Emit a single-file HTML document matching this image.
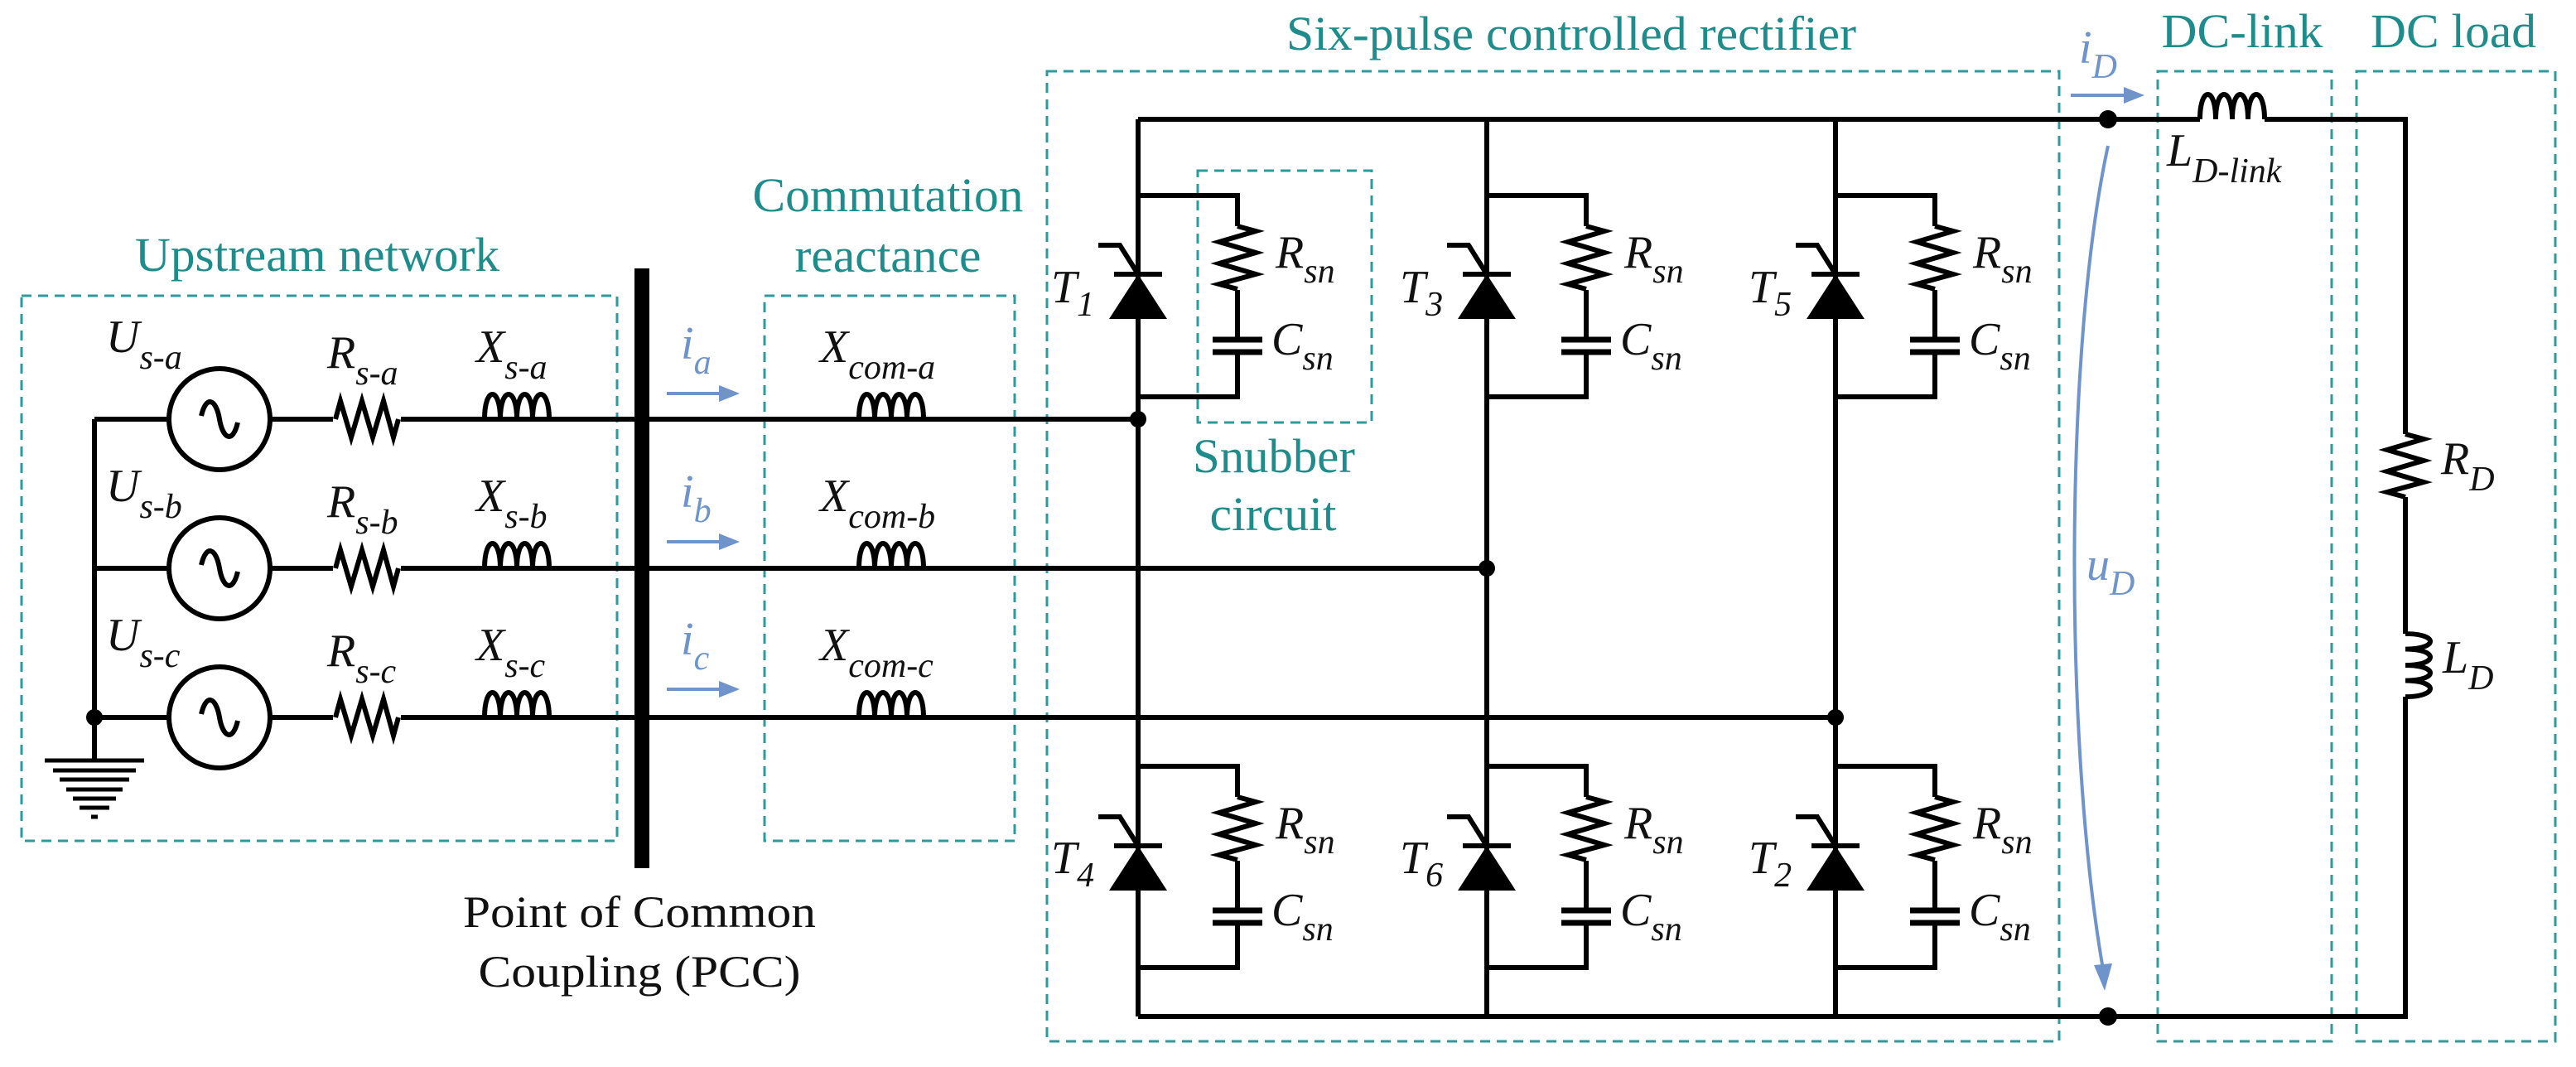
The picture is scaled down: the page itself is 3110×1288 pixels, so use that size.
<!DOCTYPE html>
<html><head><meta charset="utf-8"><style>
html,body{margin:0;padding:0;background:#fff;}
svg{display:block;}
.w{stroke:#000;stroke-width:6;fill:none;stroke-linejoin:miter;}
.box{stroke:#2f9a9c;stroke-width:3;fill:none;stroke-dasharray:12 8;}
.t{font-family:"Liberation Serif",serif;fill:#1f8c8c;font-size:58px;}
.v{font-family:"Liberation Serif",serif;font-style:italic;font-size:56px;fill:#111;}
.b{font-family:"Liberation Serif",serif;font-style:italic;font-size:56px;fill:#6f94cc;}
.p{font-family:"Liberation Serif",serif;font-size:54px;fill:#111;}
</style></head><body>
<svg width="3110" height="1288" viewBox="0 0 3110 1288" xmlns="http://www.w3.org/2000/svg">
<defs>
  <path id="res" class="w" d="M0,0 L6,-22 L19,22 L32,-22 L45,22 L58,-22 L70,22 L76,0"/>
  <path id="ind" class="w" d="M0,0 C0,-40 19,-40 19,0 C19,-40 39,-40 39,0 C39,-40 58,-40 58,0 C58,-40 78,-40 78,0"/>
  <g id="thy">
    <path d="M-35,54 L35,54 L0,0 Z" fill="#000"/>
    <path class="w" d="M-29,0 H29 M0,0 L-22,-35 H-48"/>
  </g>
  <g id="snub">
    <path class="w" d="M0,0 H120 V37 M120,114 V174 M120,189 V243 H0"/>
    <use href="#res" transform="translate(120,37) rotate(90)"/>
    <path d="M90,174 H150 M90,189 H150" stroke="#000" stroke-width="7"/>
  </g>
  <g id="src">
    <circle r="61" fill="#fff" stroke="#000" stroke-width="6"/>
    <path class="w" d="M-22,-4 C-16,-30 -4,-24 0,0 C4,24 16,30 22,4" stroke-width="5"/>
  </g>
</defs>

<!-- dashed boxes -->
<rect class="box" x="26" y="357" width="719" height="658"/>
<rect class="box" x="923" y="357" width="302" height="658"/>
<rect class="box" x="1264" y="86" width="1222" height="1171"/>
<rect class="box" x="1446" y="206" width="210" height="304"/>
<rect class="box" x="2605" y="86" width="210" height="1171"/>
<rect class="box" x="2845" y="86" width="240" height="1171"/>

<!-- titles -->
<text class="t" x="383" y="327" text-anchor="middle" textLength="440" lengthAdjust="spacingAndGlyphs">Upstream network</text>
<text class="t" x="1072" y="255" text-anchor="middle" textLength="327" lengthAdjust="spacingAndGlyphs">Commutation</text>
<text class="t" x="1072" y="328" text-anchor="middle" textLength="225" lengthAdjust="spacingAndGlyphs">reactance</text>
<text class="t" x="1897" y="60" text-anchor="middle" textLength="688" lengthAdjust="spacingAndGlyphs">Six-pulse controlled rectifier</text>
<text class="t" x="2707" y="57" text-anchor="middle" textLength="195" lengthAdjust="spacingAndGlyphs">DC-link</text>
<text class="t" x="2962" y="57" text-anchor="middle" textLength="200" lengthAdjust="spacingAndGlyphs">DC load</text>
<text class="t" x="1538" y="570" text-anchor="middle" textLength="196" lengthAdjust="spacingAndGlyphs">Snubber</text>
<text class="t" x="1537" y="640" text-anchor="middle" textLength="153" lengthAdjust="spacingAndGlyphs">circuit</text>
<text class="p" x="772" y="1119" text-anchor="middle" textLength="426" lengthAdjust="spacingAndGlyphs">Point of Common</text>
<text class="p" x="772" y="1191" text-anchor="middle" textLength="389" lengthAdjust="spacingAndGlyphs">Coupling (PCC)</text>

<!-- left bus & ground -->
<path class="w" d="M114,506 V918"/>
<circle cx="114" cy="866" r="10" fill="#000"/>
<g stroke="#000" stroke-width="5">
<path d="M54,918 H174 M64,930 H164 M72,941 H156 M80,953 H148 M88,964 H140 M96,975 H132 M110,986 H118"/>
</g>

<!-- phase wires -->
<path class="w" d="M114,506 H1374 M114,686 H1795 M114,866 H2216"/>
<g fill="#fff">
<rect x="402" y="470" width="82" height="40"/><rect x="402" y="650" width="82" height="40"/><rect x="402" y="830" width="82" height="40"/>
<rect x="585" y="470" width="78" height="33"/><rect x="585" y="650" width="78" height="33"/><rect x="585" y="830" width="78" height="33"/>
<rect x="1037" y="470" width="78" height="33"/><rect x="1037" y="650" width="78" height="33"/><rect x="1037" y="830" width="78" height="33"/>
</g>
<use href="#src" x="265" y="506"/><use href="#src" x="265" y="686"/><use href="#src" x="265" y="866"/>
<use href="#res" x="405" y="506"/><use href="#res" x="405" y="686"/><use href="#res" x="405" y="866"/>
<use href="#ind" x="585" y="506"/><use href="#ind" x="585" y="686"/><use href="#ind" x="585" y="866"/>
<use href="#ind" x="1037" y="506"/><use href="#ind" x="1037" y="686"/><use href="#ind" x="1037" y="866"/>

<!-- PCC bar -->
<rect x="766" y="324" width="18" height="724" fill="#000"/>

<!-- current arrows -->
<g stroke="#6f94cc" stroke-width="4" fill="#6f94cc">
<path d="M805,475 H880"/><path d="M893,475 L868,465 L868,485 Z" stroke="none"/>
<path d="M805,654 H880"/><path d="M893,654 L868,644 L868,664 Z" stroke="none"/>
<path d="M805,832 H880"/><path d="M893,832 L868,822 L868,842 Z" stroke="none"/>
<path d="M2500,115 H2576"/><path d="M2589,115 L2564,105 L2564,125 Z" stroke="none"/>
<path d="M2545,176 C2492,420 2492,900 2539,1170" fill="none"/>
<path d="M2541,1196 L2528,1165 L2550,1163 Z" stroke="none"/>
</g>

<!-- labels left -->
<text class="v" x="128" y="425">U<tspan font-size="42" dy="20">s-a</tspan></text>
<text class="v" x="128" y="605">U<tspan font-size="42" dy="20">s-b</tspan></text>
<text class="v" x="128" y="785">U<tspan font-size="42" dy="20">s-c</tspan></text>
<text class="v" x="395" y="444">R<tspan font-size="42" dy="20">s-a</tspan></text>
<text class="v" x="395" y="624">R<tspan font-size="42" dy="20">s-b</tspan></text>
<text class="v" x="395" y="804">R<tspan font-size="42" dy="20">s-c</tspan></text>
<text class="v" x="575" y="437">X<tspan font-size="42" dy="20">s-a</tspan></text>
<text class="v" x="575" y="617">X<tspan font-size="42" dy="20">s-b</tspan></text>
<text class="v" x="575" y="797">X<tspan font-size="42" dy="20">s-c</tspan></text>
<text class="v" x="990" y="437">X<tspan font-size="42" dy="20">com-a</tspan></text>
<text class="v" x="990" y="617">X<tspan font-size="42" dy="20">com-b</tspan></text>
<text class="v" x="990" y="797">X<tspan font-size="42" dy="20">com-c</tspan></text>
<text class="b" x="822" y="433">i<tspan font-size="42" dy="18">a</tspan></text>
<text class="b" x="822" y="612">i<tspan font-size="42" dy="18">b</tspan></text>
<text class="b" x="822" y="790">i<tspan font-size="42" dy="18">c</tspan></text>

<!-- rectifier rails and columns -->
<path class="w" d="M1374,144 H2656 M2734,144 H2904 V524 M2904,600 V765 M2904,841 V1227 H1374 M1374,144 V1227 M1795,144 V1227 M2216,144 V1227"/>
<use href="#ind" x="2656" y="144"/>
<use href="#res" transform="translate(2904,524) rotate(90)"/>
<use href="#ind" transform="translate(2904,765) rotate(90) scale(0.975,1)"/>
<circle cx="1374" cy="506" r="10" fill="#000"/>
<circle cx="1795" cy="686" r="10" fill="#000"/>
<circle cx="2216" cy="866" r="10" fill="#000"/>
<circle cx="2545" cy="144" r="11" fill="#000"/>
<circle cx="2545" cy="1227" r="11" fill="#000"/>

<!-- snubbers & thyristors -->
<use href="#snub" x="1374" y="236"/><use href="#snub" x="1795" y="236"/><use href="#snub" x="2216" y="236"/>
<use href="#snub" x="1374" y="925"/><use href="#snub" x="1795" y="925"/><use href="#snub" x="2216" y="925"/>
<use href="#thy" x="1374" y="331"/><use href="#thy" x="1795" y="331"/><use href="#thy" x="2216" y="331"/>
<use href="#thy" x="1374" y="1021"/><use href="#thy" x="1795" y="1021"/><use href="#thy" x="2216" y="1021"/>

<!-- rectifier labels -->
<g>
<text class="v" x="1269" y="365">T<tspan font-size="42" dy="16">1</tspan></text>
<text class="v" x="1690" y="365">T<tspan font-size="42" dy="16">3</tspan></text>
<text class="v" x="2111" y="365">T<tspan font-size="42" dy="16">5</tspan></text>
<text class="v" x="1269" y="1054">T<tspan font-size="42" dy="16">4</tspan></text>
<text class="v" x="1690" y="1054">T<tspan font-size="42" dy="16">6</tspan></text>
<text class="v" x="2111" y="1054">T<tspan font-size="42" dy="16">2</tspan></text>

<text class="v" x="1540" y="323">R<tspan font-size="42" dy="18">sn</tspan></text>
<text class="v" x="1961" y="323">R<tspan font-size="42" dy="18">sn</tspan></text>
<text class="v" x="2382" y="323">R<tspan font-size="42" dy="18">sn</tspan></text>
<text class="v" x="1535" y="428">C<tspan font-size="42" dy="18">sn</tspan></text>
<text class="v" x="1956" y="428">C<tspan font-size="42" dy="18">sn</tspan></text>
<text class="v" x="2377" y="428">C<tspan font-size="42" dy="18">sn</tspan></text>
<text class="v" x="1540" y="1012">R<tspan font-size="42" dy="18">sn</tspan></text>
<text class="v" x="1961" y="1012">R<tspan font-size="42" dy="18">sn</tspan></text>
<text class="v" x="2382" y="1012">R<tspan font-size="42" dy="18">sn</tspan></text>
<text class="v" x="1535" y="1117">C<tspan font-size="42" dy="18">sn</tspan></text>
<text class="v" x="1956" y="1117">C<tspan font-size="42" dy="18">sn</tspan></text>
<text class="v" x="2377" y="1117">C<tspan font-size="42" dy="18">sn</tspan></text>
</g>

<text class="v" x="2616" y="200">L<tspan font-size="42" dy="20">D-link</tspan></text>
<text class="v" x="2947" y="572">R<tspan font-size="42" dy="20">D</tspan></text>
<text class="v" x="2949" y="812">L<tspan font-size="42" dy="20">D</tspan></text>
<text class="b" x="2510" y="76">i<tspan font-size="42" dy="18">D</tspan></text>
<text class="b" x="2519" y="700">u<tspan font-size="42" dy="18">D</tspan></text>
</svg>
</body></html>
